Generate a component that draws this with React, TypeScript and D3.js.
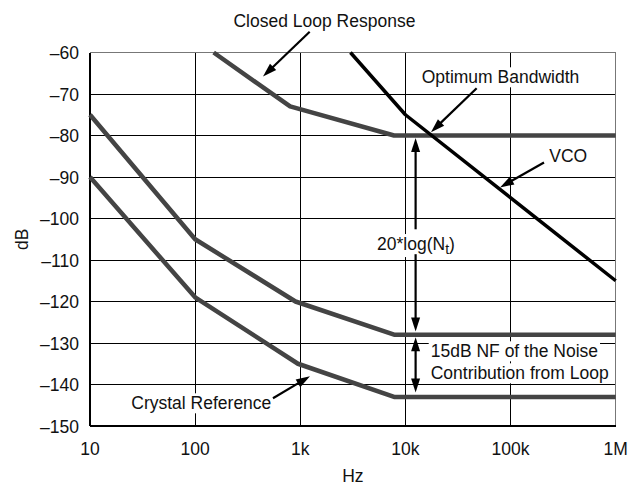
import React, { useEffect, useRef } from "react";
import * as d3 from "d3";

// ---- axis data ----
const xTicks = [10, 100, 1e3, 1e4, 1e5, 1e6];
const xTickLabels = ["10", "100", "1k", "10k", "100k", "1M"];
const yTicks = [-150, -140, -130, -120, -110, -100, -90, -80, -70, -60];

// ---- series (frequency in Hz, level in dB) ----
const closedLoopFreq = [150, 800, 7800, 1e6];
const closedLoopDb = [-60, -73, -80, -80];

const vcoFreq = [3000, 10000, 1e6];
const vcoDb = [-60, -75, -115];

const loopNoiseFreq = [10, 100, 900, 7800, 1e6];
const loopNoiseDb = [-75, -105, -120, -128, -128];

const crystalFreq = [10, 100, 950, 7800, 1e6];
const crystalDb = [-90, -119, -135, -143, -143];

// ---- annotations (data coordinates) ----
// arrows: [fromF, fromDb, toF, toDb, heads]  heads: 1 = end only, 2 = both ends
const arrowFromF = [1229, 47600, 208000, 550, 12500, 12500, 12500];
const arrowFromDb = [-55, -68.6, -86.5, -143.3, -102.6, -108.6, -128.6];
const arrowToF = [442, 17500, 79400, 1237, 12500, 12500, 12500];
const arrowToDb = [-65.8, -79.2, -92.5, -138.0, -80.6, -127.2, -141.9];
const arrowHeads = [1, 1, 1, 1, 1, 1, 2];

const labelText = [
  "Closed Loop Response",
  "Optimum Bandwidth",
  "VCO",
  "15dB NF of the Noise",
  "Contribution from Loop",
  "Crystal Reference",
];
const labelF = [1698, 80200, 354000, 17400, 17400, 114.5];
const labelDb = [-53.86, -67.42, -86.31, -133.45, -138.75, -145.98];
const labelAnchor = ["middle", "middle", "middle", "start", "start", "middle"];

const nLabelF = 12600;
const nLabelDb = -107.6;

const FONT = "'Liberation Sans', Arial, Helvetica, sans-serif";
const FS = 17.5;

export default function App() {
  const ref = useRef<SVGSVGElement | null>(null);

  useEffect(() => {
    const svg = d3.select(ref.current);
    svg.selectAll("*").remove();

    const x = d3.scaleLog().domain([10, 1e6]).range([90, 615.7]);
    const y = d3.scaleLinear().domain([-150, -60]).range([426, 52.5]);
    const [x0, x1] = x.range();
    const [y0, y1] = y.range();

    const gGrid = svg.append("g").attr("shape-rendering", "crispEdges");
    // grid
    xTicks.slice(1, -1).forEach((t) => {
      gGrid.append("line").attr("x1", x(t)).attr("x2", x(t)).attr("y1", y1).attr("y2", y0)
        .attr("stroke", "#000").attr("stroke-width", 1);
    });
    yTicks.slice(1, -1).forEach((t) => {
      gGrid.append("line").attr("x1", x0).attr("x2", x1).attr("y1", y(t)).attr("y2", y(t))
        .attr("stroke", "#000").attr("stroke-width", 1);
    });
    // frame
    gGrid.append("line").attr("x1", x0).attr("x2", x1).attr("y1", y1).attr("y2", y1).attr("stroke", "#777");
    gGrid.append("line").attr("x1", x1).attr("x2", x1).attr("y1", y1).attr("y2", y0).attr("stroke", "#777");
    gGrid.append("line").attr("x1", x0).attr("x2", x0).attr("y1", y1).attr("y2", y0).attr("stroke", "#000").attr("stroke-width", 1.3);
    gGrid.append("line").attr("x1", x0).attr("x2", x1).attr("y1", y0).attr("y2", y0).attr("stroke", "#000").attr("stroke-width", 1.3);

    const gBg = svg.append("g");
    const gLines = svg.append("g");
    const gArrows = svg.append("g");
    const gText = svg.append("g").attr("font-family", FONT).attr("font-size", FS).attr("fill", "#111");

    // tick labels
    yTicks.forEach((t) => {
      gText.append("text").attr("x", x0 - 11).attr("y", y(t) + 6.5).attr("text-anchor", "end")
        .text(t < 0 ? "\u2013" + Math.abs(t) : String(t));
    });
    xTicks.forEach((t, i) => {
      gText.append("text").attr("x", x(t)).attr("y", 455).attr("text-anchor", "middle").text(xTickLabels[i]);
    });
    gText.append("text").attr("x", (x0 + x1) / 2).attr("y", 482).attr("text-anchor", "middle").text("Hz");
    gText.append("text").attr("transform", `translate(28,${(y0 + y1) / 2}) rotate(-90)`)
      .attr("text-anchor", "middle").text("dB");

    // curves
    const line = d3.line<[number, number]>().x((d) => x(d[0])).y((d) => y(d[1]));
    const series: [number[], number[], string, number][] = [
      [closedLoopFreq, closedLoopDb, "#444", 4.5],
      [loopNoiseFreq, loopNoiseDb, "#444", 4.5],
      [crystalFreq, crystalDb, "#444", 4.5],
      [vcoFreq, vcoDb, "#000", 3.5],
    ];
    series.forEach(([f, db, c, w]) => {
      const pts = f.map((v, i) => [v, db[i]] as [number, number]);
      gLines.append("path").attr("d", line(pts)).attr("fill", "none").attr("stroke", c)
        .attr("stroke-width", w).attr("stroke-linejoin", "round");
    });

    // arrows
    const headL = 14, headW = 4.5;
    const drawHead = (tx: number, ty: number, ux: number, uy: number) => {
      const bx = tx - ux * headL, by = ty - uy * headL;
      const px = -uy, py = ux;
      gArrows.append("path")
        .attr("d", `M${tx},${ty}L${bx + px * headW},${by + py * headW}L${bx - px * headW},${by - py * headW}Z`)
        .attr("fill", "#000");
    };
    arrowFromF.forEach((_, i) => {
      const ax = x(arrowFromF[i]), ay = y(arrowFromDb[i]);
      const bx = x(arrowToF[i]), by = y(arrowToDb[i]);
      const len = Math.hypot(bx - ax, by - ay);
      const ux = (bx - ax) / len, uy = (by - ay) / len;
      const both = arrowHeads[i] === 2;
      const sx = both ? ax + ux * (headL - 2) : ax;
      const sy = both ? ay + uy * (headL - 2) : ay;
      gArrows.append("line").attr("x1", sx).attr("y1", sy)
        .attr("x2", bx - ux * (headL - 2)).attr("y2", by - uy * (headL - 2))
        .attr("stroke", "#000").attr("stroke-width", 2.2);
      drawHead(bx, by, ux, uy);
      if (both) drawHead(ax, ay, -ux, -uy);
    });

    // labels with white background
    const addBg = (node: SVGTextElement | null, pad: number) => {
      if (!node) return;
      const b = node.getBBox();
      gBg.append("rect").attr("x", b.x - pad).attr("y", b.y).attr("width", b.width + 2 * pad)
        .attr("height", b.height).attr("fill", "#fff");
    };
    labelText.forEach((t, i) => {
      const node = gText.append("text").attr("x", x(labelF[i])).attr("y", y(labelDb[i]))
        .attr("text-anchor", labelAnchor[i]).text(t);
      if (i > 0) addBg(node.node(), 2);
    });
    const nl = gText.append("text").attr("x", x(nLabelF)).attr("y", y(nLabelDb)).attr("text-anchor", "middle");
    nl.append("tspan").text("20*log(N");
    nl.append("tspan").attr("font-size", FS * 0.8).attr("dy", 4).text("t");
    nl.append("tspan").attr("dy", -4).text(")");
    addBg(nl.node(), 2);
  }, []);

  return (
    <svg
      ref={ref}
      width={641}
      height={485}
      style={{ position: "absolute", left: 0, top: 0, background: "#fff" }}
    />
  );
}
